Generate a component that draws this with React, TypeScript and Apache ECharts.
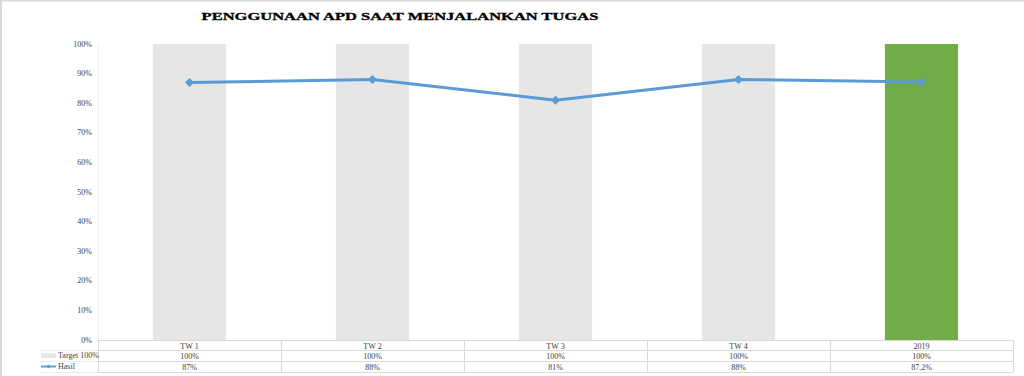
import React, { useEffect, useRef } from "react";
import * as echarts from "echarts";

const titleText = "PENGGUNAAN APD SAAT MENJALANKAN TUGAS";
const categories = ["TW 1", "TW 2", "TW 3", "TW 4", "2019"];
const targetValues = [1, 1, 1, 1, 1];
const hasilValues = [0.87, 0.88, 0.81, 0.88, 0.872];
const targetName = "Target 100%";
const hasilName = "Hasil";
const yTicks = [0, 0.1, 0.2, 0.3, 0.4, 0.5, 0.6, 0.7, 0.8, 0.9, 1];

const GRAY_BAR = "#E7E6E6";
const GREEN_BAR = "#70AD47";
const LINE_BLUE = "#5B9BD5";
const GRID_LINE = "#D9D9D9";
const TEXT = "#404040";
const FONT = "'Liberation Serif', 'Times New Roman', serif";

const fmtPct = (v: number) => {
  const p = Math.round(v * 1000) / 10;
  return (Number.isInteger(p) ? String(p) : p.toFixed(1).replace(".", ",")) + "%";
};

export default function App() {
  const ref = useRef<HTMLDivElement>(null);
  useEffect(() => {
    document.body.style.margin = "0";
    const chart = echarts.init(ref.current!, null, { renderer: "svg" });
    const labelStyle = { fontFamily: FONT, fontSize: 8, color: TEXT, lineHeight: 9 };
    const tableAxis = (data: string[], offset: number, tickLen: number, margin: number) => ({
      type: "category" as const,
      position: "bottom" as const,
      gridIndex: 0,
      offset,
      data,
      boundaryGap: true,
      axisLine: { show: true, lineStyle: { color: GRID_LINE, width: 1 } },
      axisTick: { show: tickLen > 0, length: tickLen, interval: 0, lineStyle: { color: GRID_LINE } },
      axisLabel: { ...labelStyle, margin, interval: 0 },
      splitLine: { show: false },
    });
    chart.setOption({
      animation: false,
      backgroundColor: "#ffffff",
      grid: { left: 98, right: 11, top: 44, bottom: 36, containLabel: false },
      graphic: [
        {
          type: "text",
          x: 400,
          y: 16,
          scaleX: 1.5,
          style: {
            text: titleText,
            font: `bold 11px ${FONT}`,
            fill: "#000000",
            stroke: "#000000",
            lineWidth: 0.3,
            align: "center",
            verticalAlign: "middle",
          },
        },
        { type: "line", shape: { x1: 0, y1: 0.5, x2: 1024, y2: 0.5 }, style: { stroke: "#D9D9D9", lineWidth: 2 } },
        { type: "line", shape: { x1: 1, y1: 0, x2: 1, y2: 376 }, style: { stroke: "#D9D9D9", lineWidth: 2 } },
        { type: "line", shape: { x1: 40, y1: 350.5, x2: 98, y2: 350.5 }, style: { stroke: "#EDEDED", lineWidth: 1 } },
        { type: "line", shape: { x1: 40, y1: 361.5, x2: 98, y2: 361.5 }, style: { stroke: "#EDEDED", lineWidth: 1 } },
        { type: "line", shape: { x1: 40, y1: 372.5, x2: 98, y2: 372.5 }, style: { stroke: "#EDEDED", lineWidth: 1 } },
      ],
      legend: {
        orient: "vertical",
        left: 40,
        top: 350,
        padding: 0,
        itemGap: 0,
        itemWidth: 15,
        itemHeight: 5,
        textStyle: { fontFamily: FONT, fontSize: 8, color: TEXT, lineHeight: 11, padding: [0, 0, 0, -3] },
        data: [
          { name: targetName, icon: "rect", itemStyle: { color: GRAY_BAR } },
          { name: hasilName },
        ],
      },
      xAxis: [
        tableAxis(categories, 0, 10, 2),
        tableAxis(targetValues.map(fmtPct), 10, 11, 2),
        tableAxis(hasilValues.map(fmtPct), 21, 11, 2),
        { ...tableAxis(categories.map(() => ""), 32, 0, 2), axisLabel: { show: false } },
      ],
      yAxis: {
        type: "value",
        min: 0,
        max: 1,
        interval: 0.1,
        axisLine: { show: true, lineStyle: { color: "#F0F0F0" } },
        axisTick: { show: false },
        splitLine: { show: false },
        axisLabel: {
          fontFamily: FONT,
          fontSize: 8,
          color: TEXT,
          margin: 6,
          formatter: (v: number) => {
            const t = yTicks.find((x) => Math.abs(x - v) < 1e-6);
            return `${Math.round((t ?? v) * 100)}%`;
          },
        },
      },
      series: [
        {
          name: targetName,
          type: "bar",
          xAxisIndex: 0,
          barWidth: "40%",
          itemStyle: { color: GRAY_BAR },
          data: targetValues.map((v, i) =>
            i === targetValues.length - 1 ? { value: v, itemStyle: { color: GREEN_BAR } } : v
          ),
        },
        {
          name: hasilName,
          type: "line",
          xAxisIndex: 0,
          data: hasilValues,
          symbol: "diamond",
          symbolSize: 9,
          lineStyle: { color: LINE_BLUE, width: 3 },
          itemStyle: { color: LINE_BLUE },
          z: 3,
        },
      ],
    });
    return () => chart.dispose();
  }, []);
  return <div ref={ref} style={{ width: 1024, height: 376 }} />;
}
